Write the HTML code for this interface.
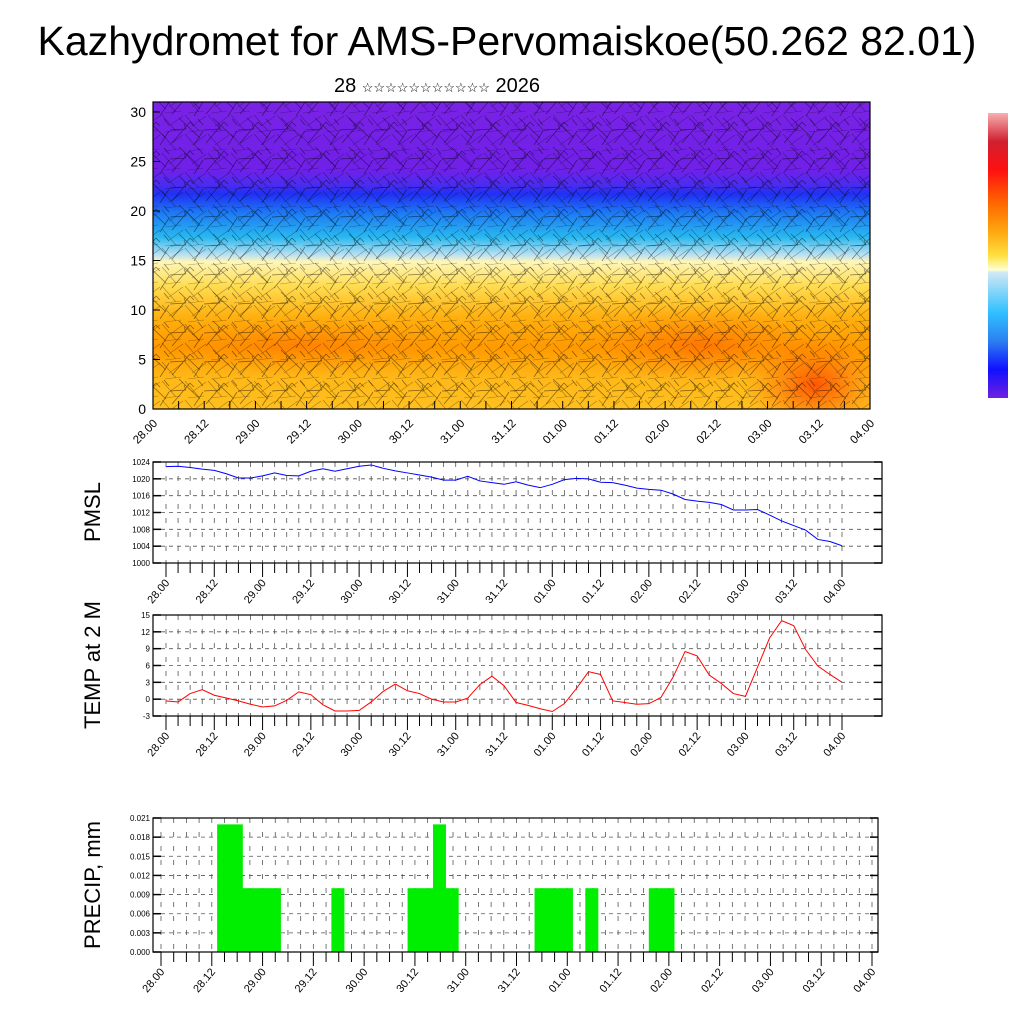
<!DOCTYPE html>
<html><head><meta charset="utf-8">
<style>
html,body{margin:0;padding:0;background:#fff;}
svg{display:block;font-family:"Liberation Sans",sans-serif;}
</style></head>
<body>
<svg id="c" width="1024" height="1024" viewBox="0 0 1024 1024" xmlns="http://www.w3.org/2000/svg">
<defs>
<clipPath id="clipTop"><rect x="153" y="102" width="717" height="307"/></clipPath>
<linearGradient id="field" x1="0" y1="0" x2="0" y2="1">
<stop offset="0" stop-color="#7a22e6"/>
<stop offset="0.22" stop-color="#7020e8"/>
<stop offset="0.27" stop-color="#4a2cf0"/>
<stop offset="0.30" stop-color="#2030f4"/>
<stop offset="0.36" stop-color="#1e78f4"/>
<stop offset="0.44" stop-color="#28b8f0"/>
<stop offset="0.5" stop-color="#c0e2f0"/>
<stop offset="0.52" stop-color="#fff6b8"/>
<stop offset="0.6" stop-color="#ffdc50"/>
<stop offset="0.7" stop-color="#ffb010"/>
<stop offset="0.8" stop-color="#ff9a00"/>
<stop offset="0.9" stop-color="#ffb818"/>
<stop offset="1" stop-color="#ffc020"/>
</linearGradient>
<radialGradient id="hot" cx="0.5" cy="0.5" r="0.5">
<stop offset="0" stop-color="#ff4a00" stop-opacity="0.9"/>
<stop offset="1" stop-color="#ff7000" stop-opacity="0"/>
</radialGradient>
<linearGradient id="cbar" x1="0" y1="0" x2="0" y2="1">
<stop offset="0" stop-color="#f6b0b0"/>
<stop offset="0.1" stop-color="#d02030"/>
<stop offset="0.2" stop-color="#ff1010"/>
<stop offset="0.32" stop-color="#ff6a00"/>
<stop offset="0.42" stop-color="#ffaa10"/>
<stop offset="0.5" stop-color="#ffe040"/>
<stop offset="0.55" stop-color="#ffffd0"/>
<stop offset="0.56" stop-color="#d0e8f4"/>
<stop offset="0.7" stop-color="#30c0ff"/>
<stop offset="0.8" stop-color="#2c80f0"/>
<stop offset="0.9" stop-color="#1010ff"/>
<stop offset="1" stop-color="#7020e0"/>
</linearGradient>
<pattern id="barbs" width="34" height="29" patternUnits="userSpaceOnUse">
<path d="M2 27 L20 6 M20 6 L24 10 M9 2 L30 22 M0 14 L16 13 M16 13 L14 8 M24 29 L33 15 M28 3 L33 9" stroke="#000" stroke-width="0.7" fill="none" opacity="0.5"/>
</pattern>
<pattern id="barbs2" width="23" height="19" patternUnits="userSpaceOnUse">
<path d="M1 1 L15 17 M22 2 L8 12 M4 18 L20 16" stroke="#000" stroke-width="0.6" fill="none" opacity="0.35"/>
</pattern>
</defs>
<text x="507" y="55" font-size="41" text-anchor="middle">Kazhydromet for AMS-Pervomaiskoe(50.262 82.01)</text>
<text x="437" y="92" font-size="20" text-anchor="middle">28 <tspan font-size="13">☆☆☆☆☆☆☆☆☆☆☆</tspan> 2026</text>
<g>
<g clip-path="url(#clipTop)">
<rect x="153" y="102" width="717" height="307" fill="url(#field)"/>
<ellipse cx="815" cy="385" rx="70" ry="50" fill="url(#hot)"/>
<ellipse cx="700" cy="345" rx="120" ry="40" fill="url(#hot)" opacity="0.5"/>
<ellipse cx="300" cy="345" rx="150" ry="30" fill="url(#hot)" opacity="0.35"/>
<rect x="153" y="102" width="717" height="307" fill="url(#barbs)"/>
<rect x="153" y="102" width="717" height="307" fill="url(#barbs2)"/>
</g>
<rect x="153" y="102" width="717" height="307" fill="none" stroke="#000" stroke-width="1.2"/>
<g id="topAxis"></g>
</g>
<rect x="988" y="113" width="20" height="285" fill="url(#cbar)"/>
<g id="panels"></g>
<script>
const topYTicks=[0,5,10,15,20,25,30];
const xLabels=["28.00","28.12","29.00","29.12","30.00","30.12","31.00","31.12","01.00","01.12","02.00","02.12","03.00","03.12","04.00"];
const pmsl=[1022.9,1023,1022.7,1022.3,1022,1021.2,1020.2,1020.2,1020.7,1021.4,1020.8,1020.7,1021.8,1022.4,1021.8,1022.4,1023,1023.3,1022.5,1021.9,1021.4,1020.9,1020.4,1019.7,1019.7,1020.6,1019.5,1019.1,1018.7,1019.3,1018.5,1017.9,1018.7,1019.8,1020.1,1020,1019.2,1019.1,1018.5,1017.8,1017.5,1017.3,1016.4,1015.1,1014.7,1014.4,1013.9,1012.6,1012.6,1012.7,1011.4,1010,1008.9,1007.8,1005.6,1005.1,1004.1];
const pmslTicks=["1000","1004","1008","1012","1016","1020","1024"];
const temp=[-0.3,-0.5,1,1.7,0.7,0.2,-0.3,-0.9,-1.4,-1.2,-0.2,1.3,0.8,-1,-2.1,-2.1,-2,-0.5,1.4,2.7,1.5,1,0,-0.5,-0.5,0.2,2.6,4.1,2.4,-0.6,-1.1,-1.7,-2.2,-0.8,1.9,4.9,4.4,-0.3,-0.6,-0.9,-0.8,0.3,3.9,8.5,7.7,4.3,2.8,1,0.5,5.7,10.9,14,13.1,8.8,5.9,4.4,3];
const tempTicks=["-3","0","3","6","9","12","15"];
const precipIdx=[5,6,7,8,9,14,20,21,22,23,30,31,32,34,39,40];
const precipVal=[0.02,0.02,0.01,0.01,0.01,0.01,0.01,0.01,0.02,0.01,0.01,0.01,0.01,0.01,0.01,0.01];
const precipTicks=["0.000","0.003","0.006","0.009","0.012","0.015","0.018","0.021"];

const NS="http://www.w3.org/2000/svg";
function mk(tag,attrs,parent){const e=document.createElementNS(NS,tag);for(const k in attrs)e.setAttribute(k,attrs[k]);parent.appendChild(e);return e;}

const ta=document.getElementById('topAxis');
const tyS=v=>409-v*(297/30);
topYTicks.forEach(v=>{
  const t=mk('text',{x:146,y:tyS(v)+5,'font-size':14,'text-anchor':'end'},ta);t.textContent=v;
  
  
  const l=mk('line',{x1:153,x2:160,y1:tyS(v),y2:tyS(v),stroke:'#000'},ta);
  
  
});
for(let i=0;i<=28;i++){
  const x=153+i*717/28;
  const l=mk('line',{x1:x,x2:x,y1:409,y2:401,stroke:'#000'},ta);
  
  
}
xLabels.forEach((s,k)=>{
  const x=153+k*717/14;
  const t=mk('text',{x:0,y:0,'font-size':11.5,'text-anchor':'end',transform:`translate(${x+5},${424}) rotate(-45)`},ta);t.textContent=s;
  
  
});

const pg=document.getElementById('panels');
function panel(name,top,bot,x0,x1,dx0,dx1,ticks,ymin,ymax,labelY,title,titleY){
  const g=mk('g',{},pg);
  
  
  const ys=v=>bot-(v-ymin)/(ymax-ymin)*(bot-top);
  const xs=i=>dx0+i*(dx1-dx0)/56;
  for(let i=0;i<=56;i++){
    const l=mk('line',{x1:xs(i),x2:xs(i),y1:top,y2:bot,stroke:'#555','stroke-width':0.8,'stroke-dasharray':'5 9'},g);
    
    
    const tk=mk('line',{x1:xs(i),x2:xs(i),y1:bot,y2:bot+(i%4==0?14:10),stroke:'#000','stroke-width':1},g);
    
    
  }
  ticks.forEach(s=>{
    const v=parseFloat(s),y=ys(v);
    const l=mk('line',{x1:x0,x2:x1,y1:y,y2:y,stroke:'#555','stroke-width':0.8,'stroke-dasharray':'4 4'},g);
    
    
    const t=mk('text',{x:x0-3,y:y+3,'font-size':8,'text-anchor':'end'},g);t.textContent=s;
    
    
    [x0,x1-8].forEach(xx=>{const m=mk('line',{x1:xx,x2:xx+8,y1:y,y2:y,stroke:'#000','stroke-width':1.5},g);
      
      });
  });
  xLabels.forEach((s,k)=>{
    const x=dx0+k*(dx1-dx0)/14;
    const t=mk('text',{x:0,y:0,'font-size':11,'text-anchor':'end',transform:`translate(${x+4},${labelY}) rotate(-50)`},g);t.textContent=s;
    
    
  });
  const tt=mk('text',{x:0,y:0,'font-size':22,'text-anchor':'middle',transform:`translate(100,${titleY}) rotate(-90)`},g);tt.textContent=title;
  
  
  return {g,xs,ys,frame:()=>{const f=mk('rect',{x:x0,y:top,width:x1-x0,height:bot-top,fill:'none',stroke:'#000','stroke-width':1.2},g);
    
    }};
}
let p=panel('pmsl',462,563,153,882,166,842,pmslTicks,1000,1024,583,'PMSL',512);
let pl=mk('polyline',{points:pmsl.map((v,i)=>p.xs(i)+','+p.ys(v)).join(' '),fill:'none',stroke:'#0000ff','stroke-width':1},p.g);


p.frame();
p=panel('temp',615,716,153,882,166,842,tempTicks,-3,15,736,'TEMP at 2 M',665);
pl=mk('polyline',{points:temp.map((v,i)=>p.xs(i)+','+p.ys(v)).join(' '),fill:'none',stroke:'#ff0000','stroke-width':1},p.g);


p.frame();
p=panel('precip',818,952,153,878,161,872,precipTicks,0,0.021,972,'PRECIP, mm',885);
const bw=(872-161)/56;
precipIdx.forEach((i,k)=>{
  const v=precipVal[k];
  const r=mk('rect',{x:p.xs(i)-bw/2-1,y:p.ys(v),width:bw+0.3,height:952-p.ys(v),fill:'#00ee00'},p.g);
  
  
});
p.frame();
</script>
</svg>
</body></html>
